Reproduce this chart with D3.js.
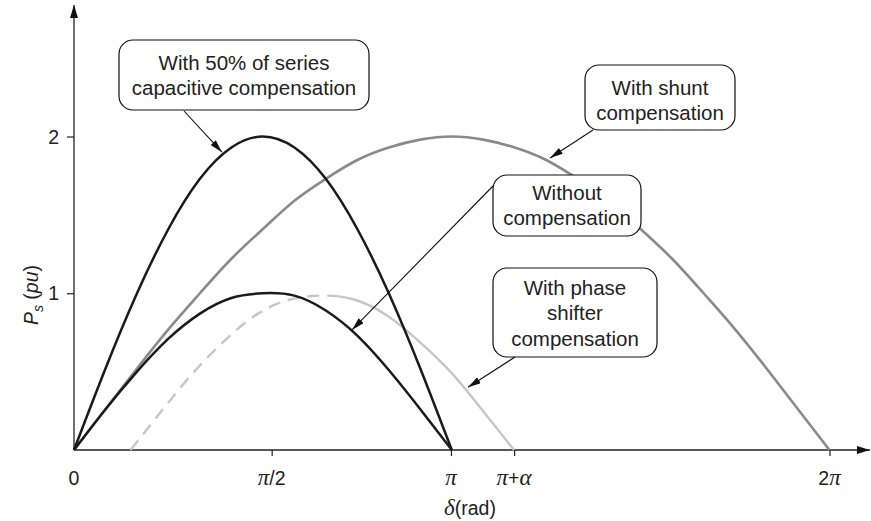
<!DOCTYPE html>
<html><head><meta charset="utf-8">
<script src="https://cdn.jsdelivr.net/npm/d3@7"></script>
<style>body{margin:0;background:#fff} svg{display:block}</style>
</head><body><svg id="c" width="871" height="521"></svg>
<script>
// ---------- data (δ in rad, P in pu) ----------
const seriesDelta = [0, 0.262, 0.524, 0.785, 1.047, 1.309, 1.571, 1.833, 2.094, 2.356, 2.618, 2.880, 3.142];
const seriesP     = [0, 0.52, 1.0, 1.41, 1.73, 1.93, 2.0, 1.93, 1.73, 1.41, 1.0, 0.52, 0];

const uncompDelta = [0, 0.262, 0.524, 0.785, 1.047, 1.309, 1.571, 1.833, 2.094, 2.356, 2.618, 2.880, 3.142];
const uncompP     = [0, 0.26, 0.5, 0.71, 0.87, 0.97, 1.0, 0.985, 0.89, 0.73, 0.51, 0.26, 0];

const shuntDelta = [0, 0.262, 0.524, 0.785, 1.047, 1.309, 1.571, 1.833, 2.094, 2.356, 2.618, 2.880, 3.142,
                    3.403, 3.665, 3.927, 4.189, 4.451, 4.712, 4.974, 5.236, 5.498, 5.760, 6.021, 6.283];
const shuntP     = [0, 0.26, 0.52, 0.77, 1.0, 1.22, 1.41, 1.59, 1.73, 1.85, 1.93, 1.98, 2.0,
                    1.98, 1.93, 1.85, 1.73, 1.59, 1.41, 1.22, 1.0, 0.77, 0.52, 0.26, 0];

const phaseDelta = [0.47, 0.74, 1.0, 1.27, 1.53, 1.80, 2.07, 2.33, 2.60, 2.86, 3.13, 3.39, 3.66];
const phaseP     = [0, 0.26, 0.5, 0.71, 0.87, 0.96, 0.985, 0.96, 0.86, 0.70, 0.5, 0.26, 0];
const phaseDashedUntil = 2.2;   // dashed part of the phase-shifter curve ends here (rad)

const xTickValues = [0, 1.644, 3.135, 3.66, 6.283];
const xTickLabels = ["0", "π/2", "π", "π+α", "2π"];
const yTickValues = [1, 2];
const yTickLabels = ["1", "2"];

const calloutTexts = [
  ["With 50% of series", "capacitive compensation"],
  ["With shunt", "compensation"],
  ["Without", "compensation"],
  ["With phase", "shifter", "compensation"]
];
// arrow tip points on curves (δ, P)
const calloutTipDelta = [1.231, 3.959, 2.312, 3.277];
const calloutTipP     = [1.90, 1.863, 0.766, 0.40];

// ---------- layout ----------
const svg = d3.select("#c");
const x = d3.scaleLinear().domain([0, 2 * Math.PI]).range([74, 829.5]);
const y = d3.scaleLinear().domain([0, 2]).range([450, 136.5]);
const SANS = "'Liberation Sans', Arial, Helvetica, sans-serif";
const SERIF = "'Liberation Serif', 'Times New Roman', serif";

const defs = svg.append("defs");
function marker(id, w, h) {
  defs.append("marker").attr("id", id).attr("viewBox", `0 0 ${w} ${h}`)
    .attr("refX", w).attr("refY", h / 2).attr("markerWidth", w).attr("markerHeight", h)
    .attr("markerUnits", "userSpaceOnUse").attr("orient", "auto")
    .append("path").attr("d", `M0,0L${w},${h/2}L0,${h}Z`).attr("fill", "#111");
}
marker("ax", 13, 8);
marker("ar", 13, 7);

defs.append("clipPath").attr("id", "clipDash").append("rect")
  .attr("x", 0).attr("y", 0).attr("width", x(phaseDashedUntil)).attr("height", 521);
defs.append("clipPath").attr("id", "clipSolid").append("rect")
  .attr("x", x(phaseDashedUntil)).attr("y", 0).attr("width", 871).attr("height", 521);

// ---------- axes ----------
const xAxis = d3.axisBottom(x).tickValues(xTickValues.slice(1)).tickSize(6).tickFormat("");
svg.append("g").attr("transform", `translate(0,${y(0)})`).call(xAxis)
  .call(g => g.select(".domain").remove())
  .call(g => g.selectAll("line").attr("stroke", "#222").attr("stroke-width", 1.2));
const yAxis = d3.axisLeft(y).tickValues(yTickValues).tickSize(7).tickFormat("");
svg.append("g").attr("transform", `translate(${x(0)},0)`).call(yAxis)
  .call(g => g.select(".domain").remove())
  .call(g => g.selectAll("line").attr("stroke", "#222").attr("stroke-width", 1.2));

svg.append("line").attr("x1", x(0)).attr("y1", y(0)).attr("x2", 870).attr("y2", y(0))
  .attr("stroke", "#222").attr("stroke-width", 1.3).attr("marker-end", "url(#ax)");
svg.append("line").attr("x1", x(0)).attr("y1", y(0)).attr("x2", x(0)).attr("y2", 5)
  .attr("stroke", "#222").attr("stroke-width", 1.3).attr("marker-end", "url(#ax)");

// x tick labels with italic greek
function mathText(sel, label) {
  const parts = label.match(/[πα]|[^πα]+/g);
  parts.forEach(p => {
    const greek = p === "π" || p === "α";
    sel.append("tspan").text(p)
      .attr("font-family", greek ? SERIF : SANS)
      .attr("font-style", greek ? "italic" : "normal")
      .attr("font-size", greek ? 23 : 19.5);
  });
}
xTickValues.forEach((v, i) => {
  const t = svg.append("text").attr("x", x(v)).attr("y", 485).attr("text-anchor", "middle").attr("fill", "#222");
  mathText(t, xTickLabels[i]);
});
yTickValues.forEach((v, i) => {
  svg.append("text").attr("x", 59).attr("y", y(v) + 7).attr("text-anchor", "end")
    .attr("font-family", SANS).attr("font-size", 19.5).attr("fill", "#222").text(yTickLabels[i]);
});

// axis titles
const xt = svg.append("text").attr("x", 470).attr("y", 515).attr("text-anchor", "middle").attr("fill", "#222");
xt.append("tspan").text("δ").attr("font-family", SERIF).attr("font-style", "italic").attr("font-size", 23);
xt.append("tspan").text("(rad)").attr("font-family", SANS).attr("font-size", 19.5);

const yt = svg.append("text").attr("transform", "translate(38,295) rotate(-90)")
  .attr("text-anchor", "middle").attr("fill", "#222").attr("font-family", SANS).attr("font-size", 19.5);
yt.append("tspan").text("P").attr("font-style", "italic");
yt.append("tspan").text("s").attr("font-style", "italic").attr("font-size", 14).attr("dy", 5);
yt.append("tspan").text(" (").attr("dy", -5);
yt.append("tspan").text("pu").attr("font-style", "italic");
yt.append("tspan").text(")");

// ---------- curves ----------
const line = d3.line().x(d => x(d[0])).y(d => y(d[1])).curve(d3.curveNatural);
const zip = (a, b) => a.map((v, i) => [v, b[i]]);

const phasePts = zip(phaseDelta, phaseP);
svg.append("path").attr("d", line(phasePts)).attr("clip-path", "url(#clipDash)")
  .attr("fill", "none").attr("stroke", "#c6c6c6").attr("stroke-width", 2.4).attr("stroke-dasharray", "12,8");
svg.append("path").attr("d", line(phasePts)).attr("clip-path", "url(#clipSolid)")
  .attr("fill", "none").attr("stroke", "#c6c6c6").attr("stroke-width", 2.4);

svg.append("path").attr("d", line(zip(shuntDelta, shuntP)))
  .attr("fill", "none").attr("stroke", "#8a8a8a").attr("stroke-width", 2.6);
svg.append("path").attr("d", line(zip(uncompDelta, uncompP)))
  .attr("fill", "none").attr("stroke", "#1a1a1a").attr("stroke-width", 2.5);
svg.append("path").attr("d", line(zip(seriesDelta, seriesP)))
  .attr("fill", "none").attr("stroke", "#1a1a1a").attr("stroke-width", 2.5);

// ---------- callouts ----------
const boxes = [
  {x0: 119, y0: 40, x1: 369, y1: 110, ax: 184, ay: 111, ty: 62},
  {x0: 585, y0: 65, x1: 735, y1: 130, ax: 593, ay: 130, ty: 87},
  {x0: 493, y0: 175, x1: 641, y1: 236, ax: 493, ay: 186, ty: 192},
  {x0: 493, y0: 268, x1: 657, y1: 357, ax: 515, ay: 357, ty: 287}
];
calloutTexts.forEach((lines, i) => {
  const b = boxes[i];
  svg.append("rect").attr("x", b.x0).attr("y", b.y0).attr("width", b.x1 - b.x0).attr("height", b.y1 - b.y0)
    .attr("rx", 14).attr("ry", 14).attr("fill", "#fff").attr("stroke", "#111").attr("stroke-width", 1.2);
  const t = svg.append("text").attr("text-anchor", "middle").attr("font-family", SANS)
    .attr("font-size", 20.5).attr("fill", "#222");
  lines.forEach((s, j) => t.append("tspan").attr("x", (b.x0 + b.x1) / 2).attr("y", b.ty + 7.5 + j * 25.5).text(s));
  svg.append("line").attr("x1", b.ax).attr("y1", b.ay)
    .attr("x2", x(calloutTipDelta[i])).attr("y2", y(calloutTipP[i]))
    .attr("stroke", "#111").attr("stroke-width", 1.1).attr("marker-end", "url(#ar)");
});
</script>
</body></html>
